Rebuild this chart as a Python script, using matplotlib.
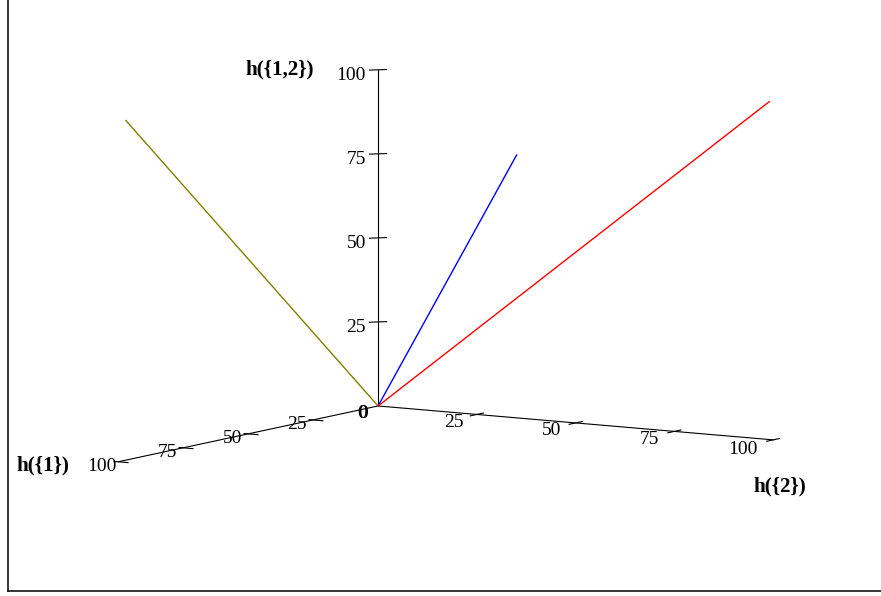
import matplotlib
matplotlib.use("Agg")
import matplotlib.pyplot as plt
from matplotlib.lines import Line2D

# ── data ────────────────────────────────────────────────────────────────────
tick_values = [25, 50, 75, 100]
tick_labels = ["25", "50", "75", "100"]
axis_labels = ["h({1})", "h({2})", "h({1,2})"]
line_colors = ["olive", "blue", "red"]
line_x_end = [97, 102.5, 0]
line_y_end = [0, 102.5, 99]
line_z_end = [101, 102, 100.5]

# label offsets (layout only) for the h({2}) tick labels
h2_label_shift = [9.0, 9.3, 9.6, 11.6]

plt.rcParams["font.family"] = ["Liberation Serif", "DejaVu Serif"]

fig = plt.figure(figsize=(8.81, 5.96), dpi=100)
ax = fig.add_axes([-0.0033, 0.0121, 1, 1], projection="3d", proj_type="ortho")
ax.set_box_aspect((486, 467, 339), zoom=1.23)
ax.view_init(elev=7.8, azim=32.3)
ax.set_axis_off()

# axes lines (the 3d axes is square, so switch clipping off)
k = dict(color="black", lw=0.8, clip_on=False)
ax.plot([0, 100], [0, 0], [0, 0], **k)
ax.plot([0, 0], [0, 100], [0, 0], **k)
ax.plot([0, 0], [0, 0], [0, 100], **k)

tfont = dict(fontsize=14, ha="center", va="center")
for v, lab, sh in zip(tick_values, tick_labels, h2_label_shift):
    ax.plot([v, v], [-1, 2.5], [0, 0], **k)          # h({1}) ticks
    ax.plot([2.5, -2.5], [v, v], [0, 0], **k)        # h({2}) ticks
    ax.plot([1.3, -1.3], [-1.3, 1.3], [v, v], **k)   # h({1,2}) ticks
    ax.text(v, -4, -1.9, lab, **tfont)
    ax.text(sh, v, -0.8, lab, **tfont)
    ax.text(1.83, -1.83, v - 1.5, lab, fontsize=14, ha="right", va="center")

# the zero at the origin (two labels overlapping)
ax.text(0, -4, -2.6, "0", **tfont)
ax.text(0, -3.85, -2.7, "0", **tfont)

lfont = dict(fontsize=15.2, fontweight="bold", ha="center", va="center")
ax.text(113.3, -10.2, 0, axis_labels[0], **lfont)
ax.text(0, 101.8, -13.7, axis_labels[1], **lfont)
ax.text(10.8, -17.8, 100, axis_labels[2], **lfont)

for c, xe, ye, ze in zip(line_colors, line_x_end, line_y_end, line_z_end):
    ax.plot([0, xe], [0, ye], [0, ze], color=c, lw=1, clip_on=False)

ax.set_xlim(0, 100); ax.set_ylim(0, 100); ax.set_zlim(0, 100)

# plot frame (left and bottom edges)
fx = 7.5 / 881
fy = 1 - 591 / 596
fig.add_artist(Line2D([fx, fx], [1, fy], transform=fig.transFigure, color="black", lw=1.1))
fig.add_artist(Line2D([fx, 1], [fy, fy], transform=fig.transFigure, color="black", lw=1.1))

fig.savefig("out.png", dpi=100)
